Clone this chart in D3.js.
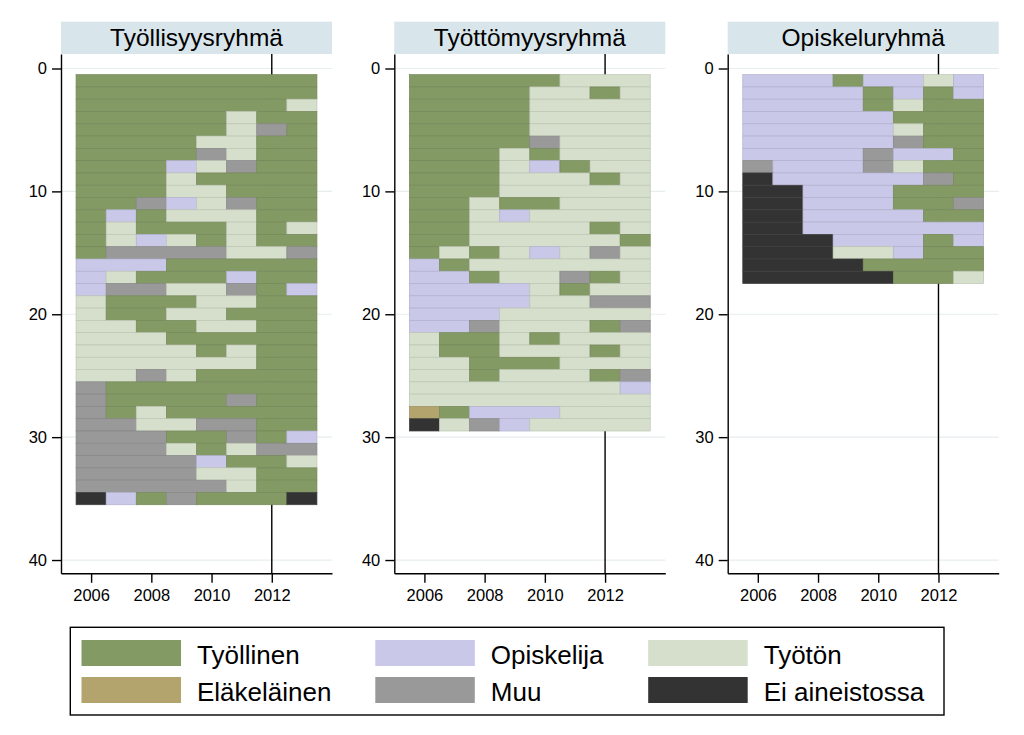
<!DOCTYPE html>
<html>
<head>
<meta charset="utf-8">
<script src="https://cdn.jsdelivr.net/npm/d3@7"></script>
<style>
  html, body { margin: 0; padding: 0; background: #fff; }
  svg { display: block; font-family: "Liberation Sans", Arial, sans-serif; }
</style>
</head>
<body>
<svg id="chart" width="1024" height="735"></svg>
<script>
// ---------------- data ----------------
const years = [2006, 2007, 2008, 2009, 2010, 2011, 2012, 2013];
const xTickValues = [2006, 2008, 2010, 2012];
const yTickValues = [0, 10, 20, 30, 40];
const markerYear = 2012;

// state codes: W = Työllinen, S = Opiskelija, U = Työtön, R = Eläkeläinen, M = Muu, E = Ei aineistossa
const stateCodes = ["W", "S", "U", "R", "M", "E"];
const stateLabels = ["Työllinen", "Opiskelija", "Työtön", "Eläkeläinen", "Muu", "Ei aineistossa"];
const stateColors = ["#849a65", "#c9c8e8", "#d6dfcc", "#b3a46e", "#999999", "#333333"];

const panelTitles = ["Työllisyysryhmä", "Työttömyysryhmä", "Opiskeluryhmä"];

const tyollisyysryhma = [
  "WWWWWWWW", "WWWWWWWW", "WWWWWWWU", "WWWWWUWW", "WWWWWUMW",
  "WWWWUUWW", "WWWWMUWW", "WWWSUMWW", "WWWUWWWW", "WWWUUWWW",
  "WWMSUMWW", "WSWUUUWW", "WUWWWUWU", "WUSUWUWW", "WMMMMUUM",
  "SSSWWWWW", "SUWWWSWW", "SMMUUMWS", "UWWWUUWW", "UWWUUWWW",
  "UUWWUUWW", "UUUWWWWW", "UUUUWUWW", "UUUUUUWW", "UUMUWWWW",
  "MWWWWWWW", "MWWWWMWW", "MWUWWWWW", "MMUUMMWW", "MMMWWMWS",
  "MMMUWUMM", "MMMMSWWU", "MMMMUUWW", "MMMMMUWW", "ESWMWWWE"
];
const tyottomyysryhma = [
  "WWWWWUUU", "WWWWUUWU", "WWWWUUUU", "WWWWUUUU", "WWWWUUUU",
  "WWWWMUUU", "WWWUWUUU", "WWWUSWUU", "WWWUUUWU", "WWWUUUUU",
  "WWUWWUUU", "WWUSUUUU", "WWUUUUWU", "WWUUUUUW", "WUWUSUMU",
  "SWUUUUUU", "SSWUUMWU", "SSSSUWUU", "SSSSUUMM", "SSSUUUUU",
  "SSMUUUWM", "UWWUWUUU", "UWWUUUWU", "UUWWWUUU", "UUWUUUWM",
  "UUUUUUUS", "UUUUUUUU", "RWSSSUUU", "EUMSUUUU"
];
const opiskeluryhma = [
  "SSSWSSUS", "SSSSWSWS", "SSSSWUWW", "SSSSSWWW", "SSSSSUWW",
  "SSSSSMWW", "SSSSMSSW", "MSSSMUWW", "ESSSSSMW", "EESSSWWW",
  "EESSSWWM", "EESSSSWW", "EESSSSSS", "EEESSSWS", "EEEUUSWW",
  "EEEEWWWW", "EEEEEWWU"
];
const panelSequences = [tyollisyysryhma, tyottomyysryhma, opiskeluryhma];

// ---------------- drawing ----------------
const svg = d3.select("#chart");
const color = d3.scaleOrdinal().domain(stateCodes).range(stateColors);
const label = d3.scaleOrdinal().domain(stateCodes).range(stateLabels);

const panelLefts = [61, 394.3, 727.7];
const panelWidth = 271;
const plotTop = 54, plotBottom = 573.3;
const y = d3.scaleLinear().domain([-1.18, 41.08]).range([plotTop, plotBottom]);

function spells(seq) {
  const out = [];
  let start = 0;
  for (let i = 1; i <= seq.length; i++) {
    if (i === seq.length || seq[i] !== seq[start]) {
      out.push({ state: seq[start], from: years[start], to: years[i - 1] });
      start = i;
    }
  }
  return out;
}

function edgeColor(c) {
  const col = d3.color(c);
  const hsl = d3.hsl(col);
  return hsl.l < 0.3 ? col.brighter(0.6) : col.darker(0.35);
}

panelSequences.forEach((seqs, p) => {
  const left = panelLefts[p];
  const x = d3.scaleLinear().domain([2005, 2014]).range([left, left + panelWidth]);
  const g = svg.append("g");

  // header strip
  g.append("rect")
    .attr("x", left).attr("y", 21.7)
    .attr("width", panelWidth).attr("height", plotTop - 21.7)
    .attr("fill", "#d8e5ea");
  g.append("text")
    .attr("x", left + panelWidth / 2).attr("y", 45.5)
    .attr("text-anchor", "middle")
    .attr("font-size", "24.5px")
    .attr("fill", "#000")
    .text(panelTitles[p]);

  // gridlines
  g.append("g").selectAll("line").data(yTickValues).join("line")
    .attr("x1", left).attr("x2", left + panelWidth)
    .attr("y1", d => y(d)).attr("y2", d => y(d))
    .attr("stroke", "#e6eef0").attr("stroke-width", 1.2);

  // reference line at 2012 (behind bars)
  g.append("line")
    .attr("x1", x(markerYear)).attr("x2", x(markerYear))
    .attr("y1", plotTop).attr("y2", plotBottom)
    .attr("stroke", "#000").attr("stroke-width", 1.4);

  // sequence bars
  const rows = g.append("g");
  seqs.forEach((seq, i) => {
    const idx = i + 1;
    rows.append("g").selectAll("rect").data(spells(seq)).join("rect")
      .attr("x", d => x(d.from - 0.5))
      .attr("width", d => x(d.to + 0.5) - x(d.from - 0.5))
      .attr("y", y(idx - 0.5))
      .attr("height", y(idx + 0.5) - y(idx - 0.5))
      .attr("fill", d => color(d.state))
      .attr("stroke", d => edgeColor(color(d.state)))
      .attr("stroke-width", 0.7);
  });

  // y axis
  const ya = g.append("g").attr("transform", `translate(${left},0)`)
    .call(d3.axisLeft(y).tickValues(yTickValues).tickSize(9).tickSizeOuter(0).tickPadding(5));
  // x axis
  const xa = g.append("g").attr("transform", `translate(0,${plotBottom})`)
    .call(d3.axisBottom(x).tickValues(xTickValues).tickFormat(d3.format("d"))
      .tickSize(9.5).tickSizeOuter(0).tickPadding(6));
  [ya, xa].forEach(a => {
    a.select(".domain").attr("stroke", "#000").attr("stroke-width", 1.4);
    a.selectAll(".tick line").attr("stroke", "#000").attr("stroke-width", 1.4);
    a.selectAll(".tick text").attr("fill", "#000")
      .attr("font-size", "16.5px")
      .attr("font-family", '"Liberation Sans", Arial, sans-serif');
  });
});

// ---------------- legend ----------------
const legendOrder = ["W", "S", "U", "R", "M", "E"];
const legendColX = [81.5, 375.3, 648.2];
const legendRowY = [640, 677];
const lg = svg.append("g");
lg.append("rect")
  .attr("x", 70.3).attr("y", 627.3)
  .attr("width", 944 - 70.3).attr("height", 715 - 627.3)
  .attr("fill", "#fff").attr("stroke", "#000").attr("stroke-width", 1.4);
const items = lg.selectAll("g.item").data(legendOrder).join("g")
  .attr("class", "item")
  .attr("transform", (d, i) => `translate(${legendColX[i % 3]},${legendRowY[Math.floor(i / 3)]})`);
items.append("rect")
  .attr("width", 99.5).attr("height", 26)
  .attr("fill", d => color(d));
items.append("text")
  .attr("x", 115.5).attr("y", 24)
  .attr("font-size", "26px")
  .attr("fill", "#000")
  .text(d => label(d));
</script>
</body>
</html>
